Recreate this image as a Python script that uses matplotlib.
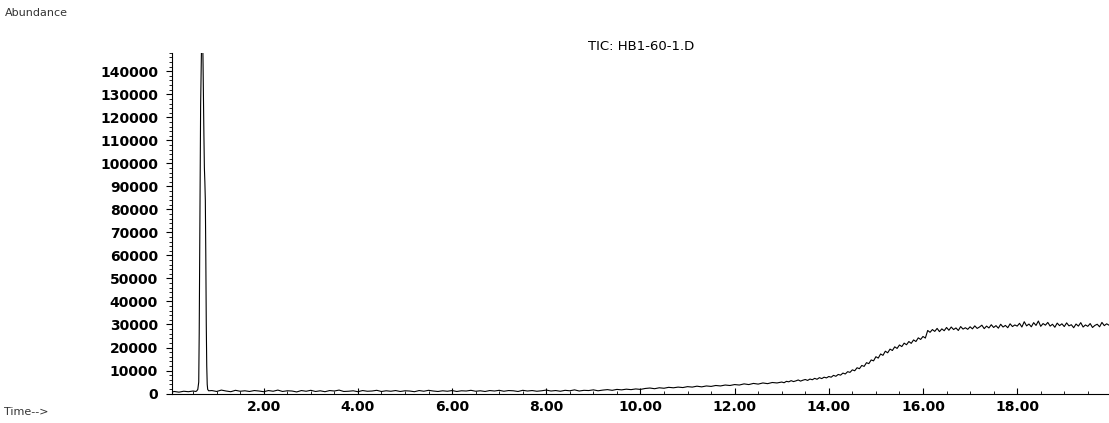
import numpy as np
import matplotlib.pyplot as plt
from matplotlib.ticker import MultipleLocator, FormatStrFormatter

# solvent front + peak (min, counts)
peak_time = [0.06, 0.10, 0.20, 0.30, 0.40, 0.50, 0.56, 0.58, 0.60, 0.62,
             0.63, 0.64, 0.65, 0.66, 0.67, 0.68, 0.69, 0.70, 0.71, 0.72,
             0.73, 0.74, 0.75, 0.76, 0.77, 0.78, 0.79, 0.80, 0.81, 0.83]
peak_abund = [700, 900, 600, 1000, 800, 1100, 900, 1200, 1800, 5000,
              26000, 60000, 98000, 125000, 140000, 152000, 150000, 156000, 146000, 128000,
              112000, 98000, 92000, 84000, 60000, 30000, 12000, 4000, 1800, 1200]

# baseline, every 0.1 min from 0.9 to 12.9 min
base_start, base_step = 0.9, 0.1
base_abund = [
    1300, 900, 1500, 1100, 800, 1400, 1000, 1200, 900, 1300,
    1100, 800, 1300, 1000, 1500, 900, 1200, 1100, 700, 1300,
    1000, 1400, 900, 1200, 800, 1300, 1100, 1500, 900, 1000,
    1200, 800, 1300, 1000, 1100, 1400, 900, 1200, 1000, 1300,
    900, 1200, 1100, 800, 1300, 1000, 1400, 1100, 900, 1200,
    1000, 1300, 900, 1200, 1100, 1400, 1000, 1200, 900, 1300,
    1100, 1400, 1000, 1300, 1200, 900, 1400, 1100, 1300, 1000,
    1200, 1500, 1100, 1300, 1000, 1400, 1200, 1600, 1100, 1400,
    1300, 1600, 1200, 1500, 1700, 1400, 1800, 1600, 1900, 1700,
    2000, 1800, 2200, 2400, 2100, 2500, 2300, 2700, 2500, 2800,
    2600, 3000, 2800, 3200, 2900, 3300, 3100, 3500, 3300, 3700,
    3500, 3900, 3700, 4200, 3900, 4400, 4100, 4600, 4300, 4800,
    4600,
]

# column bleed + plateau, every 0.05 min from 13.0 min
bleed_start, bleed_step = 13.0, 0.05
bleed_abund = [
    5000, 4700, 5300, 5100, 5600, 5200, 5500, 5900, 5400, 5800,
    6100, 5700, 6300, 6000, 6600, 6200, 6900, 6500, 7100, 6800,
    7400, 7100, 7900, 7500, 8300, 8000, 8900, 8500, 9500, 9200,
    10300, 9900, 11200, 10800, 12200, 11800, 13400, 13000, 14600, 14200,
    16000, 15400, 17200, 16600, 18400, 17700, 19300, 18700, 20300, 19600,
    21100, 20400, 21900, 21200, 22600, 21800, 23300, 22600, 24200, 23500,
    24800, 24100, 27400, 26600, 27800, 27000, 28300, 26900, 28100, 27300,
    28700, 27500, 28900, 27800, 28500, 27400, 29100, 28000, 28600, 27900,
    29000, 28100, 29400, 28300, 28900, 29700, 28200, 29300, 28500, 29900,
    28700, 29500, 28400, 30100, 28900, 29600, 28600, 30300, 29100, 29800,
    29300, 30500, 28900, 31200, 29400, 30200, 29000, 30800, 29600, 31500,
    29200, 30400, 29700, 30900, 29300, 30100, 28800, 30600, 29500, 30300,
    29100, 30700, 29400, 29900, 28600, 30200, 29300, 30800, 28900, 29800,
    29200, 30400, 28700, 29600, 30100, 29000, 30900, 29500, 30300, 29700,
]

base_time = base_start + base_step * np.arange(len(base_abund))
bleed_time = bleed_start + bleed_step * np.arange(len(bleed_abund))
t = np.concatenate([peak_time, base_time, bleed_time])
y = np.concatenate([peak_abund, base_abund, bleed_abund])

fig = plt.figure(figsize=(11.09, 4.23), dpi=100)
ax = fig.add_axes([0.155, 0.068, 0.845, 0.807])
ax.plot(t, y, color='black', lw=0.8)

ax.set_xlim(0.05, 19.95)
ax.set_ylim(-300, 148000)
for s in ['top', 'right']:
    ax.spines[s].set_visible(False)
for s in ['left', 'bottom']:
    ax.spines[s].set_linewidth(0.8)

ax.xaxis.set_major_locator(MultipleLocator(2))
ax.xaxis.set_minor_locator(MultipleLocator(0.5))
ax.xaxis.set_major_formatter(FormatStrFormatter('%.2f'))
ax.yaxis.set_major_locator(MultipleLocator(10000))
ax.yaxis.set_minor_locator(MultipleLocator(2000))
ax.tick_params(axis='x', which='major', direction='in', length=4, pad=4)
ax.tick_params(axis='x', which='minor', direction='in', length=2)
ax.tick_params(axis='y', which='major', direction='out', length=4, pad=6)
ax.tick_params(axis='y', which='minor', direction='out', length=2)
for lab in ax.get_xticklabels() + ax.get_yticklabels():
    lab.set_fontweight('bold')
    lab.set_fontsize(10)

fig.text(0.578, 0.875, 'TIC: HB1-60-1.D', ha='center', va='bottom', fontsize=9.5)
fig.text(0.004, 0.97, 'Abundance', ha='left', va='center', fontsize=8, color='#333333')
fig.text(0.004, 0.025, 'Time-->', ha='left', va='center', fontsize=8, color='#333333')

plt.savefig('out.png', dpi=100)
